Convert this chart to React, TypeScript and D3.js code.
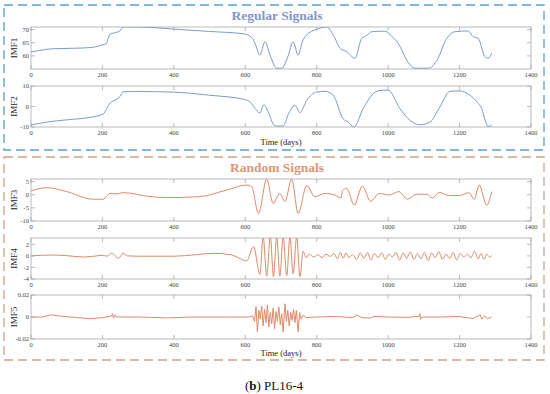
import React from "react";
import * as d3 from "d3";

const xTicks = [0, 200, 400, 600, 800, 1000, 1200, 1400];

const imf1: [number, number][] = [[0,61.5],[30,62.2],[60,62.7],[120,62.9],[170,63.2],[200,64.2],[210,64.6],[221,68.2],[240,69.0],[249,69.5],[258,71.0],[300,71.0],[400,70.2],[500,69.3],[596,68.4],[618,67.0],[628,64.5],[641,60.3],[655,65.4],[670,60],[688,55.3],[702,55.3],[720,60],[734,65.4],[748,60.3],[760,65.5],[772,68],[800,70.1],[828,71],[850,67],[865,62.9],[884,61.6],[907,59.1],[926,66.7],[940,67.8],[954,69.2],[991,69.4],[1010,67.5],[1028,64.8],[1056,57.5],[1075,55.3],[1112,55.3],[1140,59.1],[1159,65.4],[1187,69.2],[1224,69.5],[1238,67.3],[1252,66.7],[1271,59.7],[1280,59.1],[1290,61]];

const imf2: [number, number][] = [[0,-9],[53,-7.4],[100,-6.5],[165,-5.3],[202,-3.7],[212,-1],[221,1.6],[240,3.5],[250,5],[258,7.2],[300,7.3],[400,7.0],[500,5.5],[596,3.5],[613,2.3],[628,-1],[641,-3.2],[652,0.8],[665,-3],[680,-9],[688,-9.5],[706,-9.5],[720,-4],[739,0.6],[753,-3],[772,3],[800,7.1],[823,7.4],[846,5.5],[874,-6],[888,-7.6],[904,-10],[930,-1],[958,6.2],[980,7.9],[1000,8],[1033,-1],[1061,-6.7],[1089,-8.9],[1117,-7.6],[1145,-0.2],[1173,7.4],[1201,7.6],[1229,5.5],[1250,2],[1262,-1],[1272,-7],[1280,-9.8],[1290,-9]];

const imf3: [number, number][] = [[0,1.5],[44,2.7],[100,1.2],[174,-1.7],[202,-1.7],[212,-0.5],[221,0.5],[240,0.3],[258,0.8],[333,-0.7],[380,-1.1],[473,-0.7],[548,1.8],[604,3.7],[618,3.1],[637,-7.2],[660,6],[678,-3.3],[697,0.5],[711,-2.6],[730,6],[748,-7.1],[772,3.5],[795,-0.7],[823,0.5],[851,-0.1],[868,-1.2],[872,1.5],[884,2.4],[905,-3.9],[928,3.3],[951,-2.5],[975,0.5],[1003,-0.1],[1030,1.2],[1054,-1.7],[1080,0.2],[1108,0.2],[1124,-1.3],[1143,0.9],[1169,-0.3],[1200,-0.3],[1226,0.8],[1241,-1.7],[1255,3.7],[1276,-4],[1290,1.2]];

const imf4: [number, number][] = [[0,0],[55,0.15],[100,0.05],[147,-0.2],[190,0.05],[202,0.1],[212,-0.05],[226,0.45],[245,-0.4],[258,0.45],[270,0],[300,-0.05],[400,-0.05],[460,0.2],[510,0.45],[560,0.2],[604,-0.85],[623,1.6],[641,-3.2],[650,3.3],[660,-3.5],[670,3.3],[679,-3.6],[688,3.3],[697,-3.5],[706,3.3],[716,-3.4],[725,3.3],[734,-3.1],[744,3.3],[753,-3.6],[762,0.8],[770,-0.3],[780,0.3],[792,-0.2],[803,0.2],[815,-0.3],[826,0.3],[838,-0.1],[848,0.4],[858,-0.5],[866,0.6],[874,-0.4],[882,0.5],[890,-0.3],[900,0.2],[912,-0.6],[922,0.5],[932,-0.4],[942,0.6],[952,-0.7],[962,0.4],[972,-0.3],[982,0.5],[992,-0.6],[1002,0.3],[1012,-0.2],[1022,0.6],[1032,-0.7],[1042,0.5],[1052,-0.4],[1062,0.7],[1072,-0.6],[1082,0.4],[1092,-0.5],[1102,0.6],[1112,-0.8],[1122,0.5],[1132,-0.3],[1142,0.7],[1152,-0.6],[1162,0.3],[1172,-0.4],[1182,0.6],[1192,-0.7],[1202,0.4],[1212,-0.2],[1222,0.3],[1232,-0.3],[1242,0.8],[1252,-0.5],[1260,0.4],[1268,-0.6],[1276,0.3],[1284,-0.2],[1290,0]];

const imf5: [number, number][] = [[0,0],[30,0],[55,0.002],[90,0.0005],[130,-0.0005],[165,-0.0015],[200,-0.0005],[225,0.0008],[228,0.003],[231,-0.001],[235,0.002],[240,0],[300,0],[380,-0.0008],[450,0],[550,0],[610,0],[620,0.001],[626,-0.004],[630,0.0095],[634,-0.0135],[638,0.006],[642,-0.002],[646,0.01],[650,-0.008],[654,0.007],[658,-0.005],[662,0.011],[666,-0.009],[670,0.004],[674,-0.006],[678,0.008],[682,-0.011],[686,0.005],[690,-0.004],[694,0.009],[698,-0.007],[702,0.003],[706,-0.0135],[711,0.012],[715,-0.004],[719,0.006],[723,-0.008],[727,0.004],[731,-0.003],[735,0.007],[739,-0.005],[743,0.006],[748,-0.0135],[752,0.004],[756,-0.002],[762,0.0015],[770,-0.0005],[800,0],[850,0.0005],[900,-0.0005],[912,0.0015],[917,0.001],[925,-0.0005],[949,-0.001],[960,0.0005],[1000,0],[1050,-0.0003],[1085,0.0005],[1089,0.003],[1091,-0.002],[1095,0],[1150,0],[1200,0.0005],[1238,-0.0015],[1245,0],[1258,0.002],[1262,-0.002],[1270,0.001],[1278,-0.0015],[1290,0]];

const BLUE = "#7b9bcd";
const ORANGE = "#dc8a68";
const FONT = "Liberation Serif";

const X0 = 31, X1 = 531;

type PanelProps = {
  id: string;
  label: string;
  data: [number, number][];
  yDomain: [number, number];
  yTicks: number[];
  top: number;
  bottom: number;
  color: string;
  smooth: boolean;
};

function Panel({ id, label, data, yDomain, yTicks, top, bottom, color, smooth }: PanelProps) {
  const x = d3.scaleLinear().domain([0, 1400]).range([X0, X1]);
  const y = d3.scaleLinear().domain(yDomain).range([bottom, top]);
  const line = d3
    .line<[number, number]>()
    .x((d) => x(d[0]))
    .y((d) => y(d[1]))
    .curve(smooth ? d3.curveMonotoneX : d3.curveLinear);
  const axisColor = "#a8a8a8";
  return (
    <g>
      <defs>
        <clipPath id={"clip-" + id}>
          <rect x={X0} y={top} width={X1 - X0} height={bottom - top} />
        </clipPath>
      </defs>
      <rect x={X0} y={top} width={X1 - X0} height={bottom - top} fill="white" stroke={axisColor} strokeWidth={0.8} />
      {xTicks.map((t) => (
        <g key={"xt" + t}>
          <line x1={x(t)} x2={x(t)} y1={bottom} y2={bottom - 4} stroke={axisColor} strokeWidth={0.8} />
          <line x1={x(t)} x2={x(t)} y1={top} y2={top + 4} stroke={axisColor} strokeWidth={0.8} />
          <text x={x(t)} y={bottom + 8} fontSize={6.5} fontFamily={FONT} fill="#444" textAnchor="middle">
            {t}
          </text>
        </g>
      ))}
      {yTicks.map((t) => (
        <g key={"yt" + t}>
          <line x1={X0} x2={X0 + 4} y1={y(t)} y2={y(t)} stroke={axisColor} strokeWidth={0.8} />
          <line x1={X1} x2={X1 - 4} y1={y(t)} y2={y(t)} stroke={axisColor} strokeWidth={0.8} />
          <text x={X0 - 2} y={y(t) + 2.3} fontSize={6.5} fontFamily={FONT} fill="#444" textAnchor="end">
            {String(t)}
          </text>
        </g>
      ))}
      <path d={line(data) || ""} fill="none" stroke={color} strokeWidth={1} clipPath={`url(#clip-${id})`} />
      <text
        transform={`translate(${17},${(top + bottom) / 2}) rotate(-90)`}
        fontSize={9}
        fontFamily={FONT}
        fill="#222"
        textAnchor="middle"
      >
        {label}
      </text>
    </g>
  );
}

export default function App() {
  return (
    <svg width={550} height={394} style={{ position: "absolute", left: 0, top: 0, background: "white" }}>
      <rect x={0} y={0} width={550} height={394} fill="white" />
      <rect x={4} y={5} width={540} height={145} fill="none" stroke="#5aa0cc" strokeWidth={1.3} strokeDasharray="9,5" />
      <rect x={4} y={157} width={540} height={203} fill="none" stroke="#cba48c" strokeWidth={1.3} strokeDasharray="9,5" />
      <text x={277} y={20} fontSize={13.5} fontWeight="bold" fontFamily={FONT} fill="#7f96cc" textAnchor="middle">
        Regular Signals
      </text>
      <text x={277} y={172} fontSize={13.5} fontWeight="bold" fontFamily={FONT} fill="#dc9674" textAnchor="middle">
        Random Signals
      </text>
      <Panel id="p1" label="IMF1" data={imf1} yDomain={[55, 71]} yTicks={[60, 65, 70]} top={27} bottom={69} color={BLUE} smooth />
      <Panel id="p2" label="IMF2" data={imf2} yDomain={[-10, 10]} yTicks={[-10, 0, 10]} top={86} bottom={127} color={BLUE} smooth />
      <Panel id="p3" label="IMF3" data={imf3} yDomain={[-10, 6]} yTicks={[-10, -5, 0, 5]} top={179} bottom={221} color={ORANGE} smooth />
      <Panel id="p4" label="IMF4" data={imf4} yDomain={[-4, 3.1]} yTicks={[-4, -2, 0, 2]} top={238} bottom={279} color={ORANGE} smooth />
      <Panel id="p5" label="IMF5" data={imf5} yDomain={[-0.02, 0.02]} yTicks={[-0.02, 0, 0.02]} top={295} bottom={339} color={ORANGE} smooth={false} />
      <text x={281} y={145} fontSize={8.5} fontFamily={FONT} fill="#222" textAnchor="middle">
        Time (days)
      </text>
      <text x={281} y={356} fontSize={8.5} fontFamily={FONT} fill="#222" textAnchor="middle">
        Time (days)
      </text>
      <text x={274} y={390} fontSize={13} fontFamily={FONT} fill="#111" textAnchor="middle">
        (<tspan fontWeight="bold">b</tspan>) PL16-4
      </text>
    </svg>
  );
}
